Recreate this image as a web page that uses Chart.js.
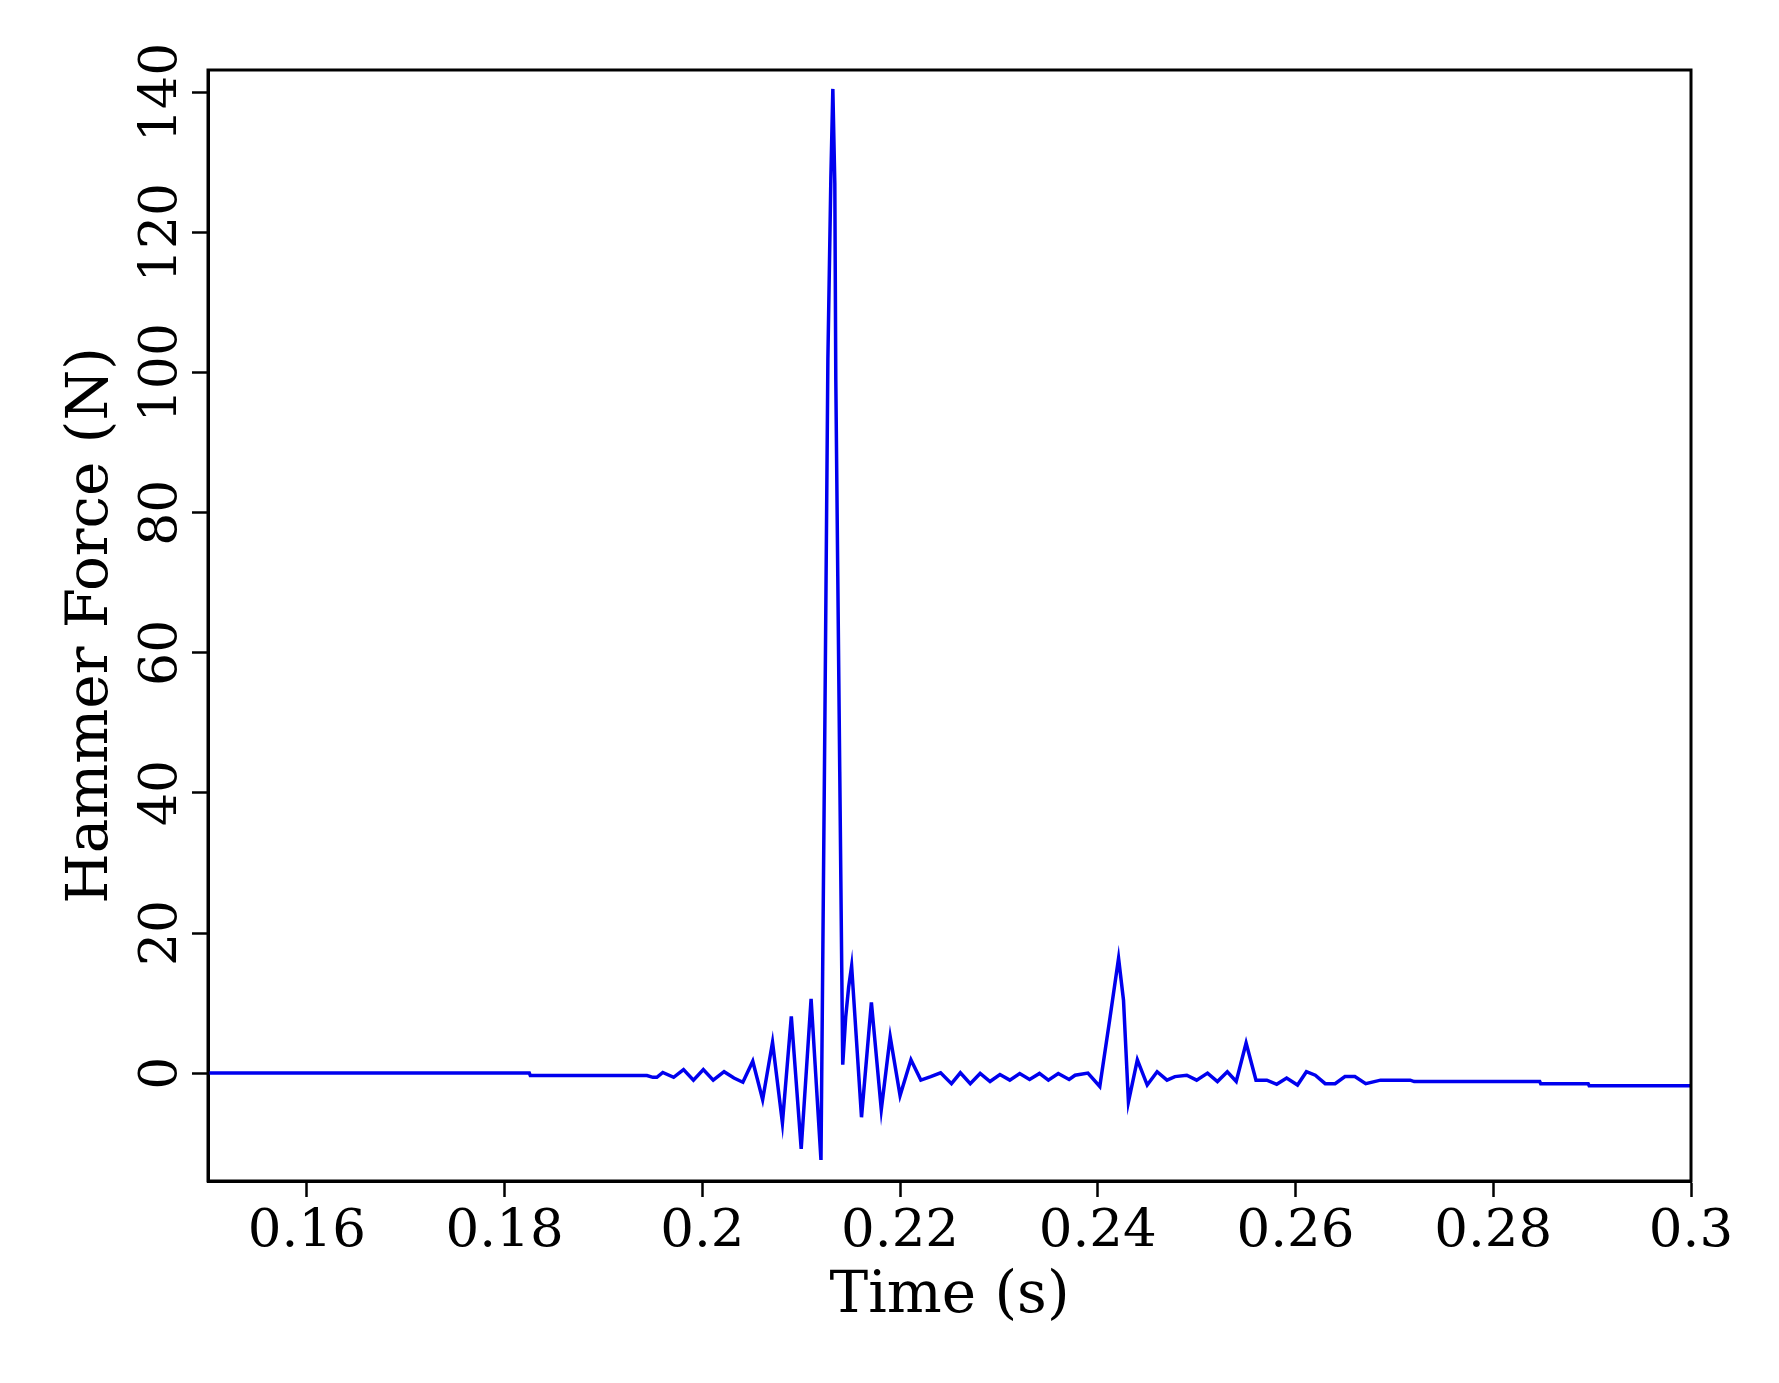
<!DOCTYPE html>
<html>
<head>
    <title>Hammer Force</title>
    <script src="https://cdn.jsdelivr.net/npm/chart.js@4"></script>
    <style>
        html, body { margin: 0; padding: 0; background: #ffffff; }
        .wrap { width: 1779px; height: 1383px; }
    </style>
</head>
<body>
    <div class="wrap">
        <canvas id="forceChart" width="1779" height="1383"></canvas>
    </div>

    <script>
        // Time (s) and hammer force (N)
        const times = [
            0.15, 0.1825, 0.1826, 0.1944, 0.1950, 0.1954, 0.1960, 0.1971, 0.1981, 0.1991,
            0.2001, 0.2011, 0.2022, 0.2032, 0.2041, 0.2051, 0.2061, 0.2071, 0.2081, 0.2090,
            0.2100, 0.2110, 0.2120, 0.2124, 0.2127, 0.2130, 0.2132, 0.2134, 0.2135, 0.2137,
            0.2139, 0.2141, 0.2142, 0.2145, 0.2148, 0.2151, 0.2161, 0.2171, 0.2181, 0.2190,
            0.2200, 0.2211, 0.2221, 0.2231, 0.2241, 0.2252, 0.2261, 0.2271, 0.2281, 0.2291,
            0.2301, 0.2311, 0.2321, 0.2331, 0.2341, 0.2350, 0.2360, 0.2371, 0.2377, 0.2390,
            0.2402, 0.2412, 0.2421, 0.2426, 0.2431, 0.2440, 0.2450, 0.2460, 0.2470, 0.2478,
            0.2490, 0.2500, 0.2511, 0.2521, 0.2531, 0.2540, 0.2550, 0.2560, 0.2571, 0.2581,
            0.2591, 0.2602, 0.2611, 0.2620, 0.2630, 0.2640, 0.2650, 0.2660, 0.2671, 0.2686,
            0.2716, 0.2720, 0.2847, 0.2848, 0.2896, 0.2897, 0.3
        ];
        const force = [
            0, 0, -0.35, -0.35, -0.6, -0.6, 0.1, -0.6, 0.5, -1.0,
            0.5, -1.0, 0.2, -0.7, -1.3, 1.7, -3.8, 4.4, -7.1, 8.1,
            -10.8, 10.6, -12.4, 51, 102, 127.8, 140.5, 127, 99, 71,
            43, 15, 1.2, 8, 12.3, 15.3, -6.3, 10.1, -5.2, 5.2,
            -3.2, 1.9, -1.0, -0.5, 0.05, -1.5, 0.05, -1.5, -0.05, -1.2,
            -0.2, -1.0, -0.05, -0.9, -0.05, -1.0, -0.05, -0.9, -0.3, 0.0,
            -1.9, 7.6, 16.4, 10.4, -4.1, 1.9, -1.7, 0.2, -1.0, -0.5,
            -0.3, -1.0, 0.0, -1.2, 0.2, -1.2, 4.3, -1.0, -1.0, -1.6,
            -0.7, -1.7, 0.2, -0.3, -1.5, -1.5, -0.5, -0.5, -1.5, -1.0,
            -1.0, -1.2, -1.2, -1.5, -1.5, -1.8, -1.8
        ];

        const xTicks = [0.16, 0.18, 0.2, 0.22, 0.24, 0.26, 0.28, 0.3];
        const yTicks = [0, 20, 40, 60, 80, 100, 120, 140];

        const FONT = "'DejaVu Serif', 'Liberation Serif', serif";

        // full box round the plot area
        const frameBox = {
            id: 'frameBox',
            afterDraw(chart) {
                const a = chart.chartArea;
                const ctx = chart.ctx;
                ctx.save();
                ctx.strokeStyle = '#000';
                ctx.lineWidth = 3;
                ctx.strokeRect(a.left, a.top, a.right - a.left, a.bottom - a.top);
                ctx.restore();
            }
        };

        const ctx = document.getElementById('forceChart').getContext('2d');
        new Chart(ctx, {
            type: 'line',
            data: {
                datasets: [{
                    data: times.map((t, i) => ({ x: t, y: force[i] })),
                    borderColor: '#0000ee',
                    borderWidth: 3.5,
                    pointRadius: 0,
                    tension: 0,
                    fill: false
                }]
            },
            options: {
                responsive: false,
                animation: false,
                layout: { padding: { left: 0, top: 70, right: 88, bottom: 0 } },
                plugins: {
                    legend: { display: false },
                    tooltip: { enabled: false }
                },
                scales: {
                    x: {
                        type: 'linear',
                        min: 0.15,
                        max: 0.3,
                        afterBuildTicks: s => { s.ticks = xTicks.map(v => ({ value: v })); },
                        afterFit: s => { s.height = 202; },
                        ticks: {
                            color: '#000',
                            font: { family: FONT, size: 53 },
                            padding: 3,
                            maxRotation: 0,
                            callback: v => String(Number(v.toFixed(2)))
                        },
                        grid: {
                            drawOnChartArea: false,
                            drawTicks: true,
                            tickLength: 16,
                            tickColor: '#000',
                            tickWidth: 2.5
                        },
                        border: { display: true, color: '#000', width: 3 },
                        title: {
                            display: true,
                            text: 'Time (s)',
                            color: '#000',
                            font: { family: FONT, size: 58 },
                            padding: { top: 0, bottom: 51 }
                        }
                    },
                    y: {
                        min: -15.4,
                        max: 143.2,
                        afterBuildTicks: s => { s.ticks = yTicks.map(v => ({ value: v })); },
                        afterFit: s => { s.width = 208; },
                        ticks: {
                            color: '#000',
                            font: { family: FONT, size: 52 },
                            minRotation: 90,
                            maxRotation: 90,
                            crossAlign: 'center',
                            padding: -20
                        },
                        grid: {
                            drawOnChartArea: false,
                            drawTicks: true,
                            tickLength: 16,
                            tickColor: '#000',
                            tickWidth: 2.5
                        },
                        border: { display: true, color: '#000', width: 3 },
                        title: {
                            display: true,
                            text: 'Hammer Force (N)',
                            color: '#000',
                            font: { family: FONT, size: 58 },
                            padding: { top: 57, bottom: 0 }
                        }
                    }
                }
            },
            plugins: [frameBox]
        });
    </script>
</body>
</html>
